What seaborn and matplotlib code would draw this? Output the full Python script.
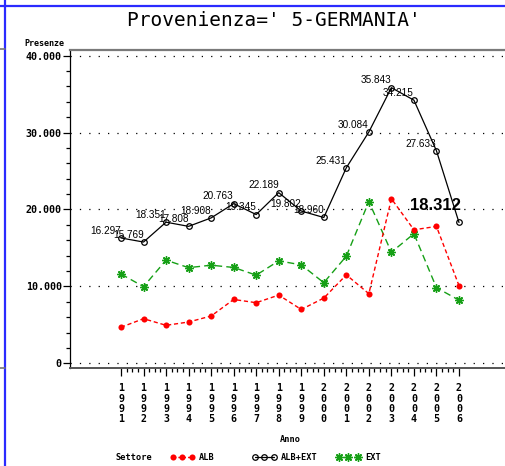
import pandas as pd
import matplotlib.pyplot as plt
from matplotlib.lines import Line2D
from matplotlib.ticker import FixedLocator
import seaborn as sns

# dati
anni = list(range(1991, 2007))
alb = [4690, 5800, 4940, 5370, 6150, 8300, 7880, 8870, 7000, 8480, 11500, 9050, 21400, 17360, 17800, 10100]
ext = [11607, 9969, 13411, 12438, 12758, 12463, 11465, 13319, 12802, 10480, 13931, 21034, 14443, 16855, 9833, 8212]
alb_ext = [16297, 15769, 18351, 17808, 18908, 20763, 19345, 22189, 19802, 18960, 25431, 30084, 35843, 34215, 27633, 18312]
y_ticks = [0, 10000, 20000, 30000, 40000]
y_labels = ['0', '10.000', '20.000', '30.000', '40.000']
serie = ['ALB', 'ALB+EXT', 'EXT']

MONO = 'DejaVu Sans Mono'
NARROW = ['Liberation Sans Narrow', 'DejaVu Sans Condensed', 'Liberation Sans']
ROSSO = '#ff0000'
VERDE = '#16a016'
BLU = '#2b2bff'


def main():
    sns.set_style('ticks')
    plt.rcParams['font.family'] = [MONO]
    plt.rcParams['text.color'] = 'black'
    plt.rcParams['xtick.color'] = 'black'
    plt.rcParams['ytick.color'] = 'black'

    df = pd.DataFrame({'Anno': anni, 'ALB': alb, 'EXT': ext, 'ALB+EXT': alb_ext})

    stili = {
        'ALB': dict(color=ROSSO, lw=1, linestyle=(0, (3, 2)), marker='o',
                    markersize=4.4, markeredgewidth=0),
        'ALB+EXT': dict(color='black', lw=0.9, marker='o', markersize=4,
                        markerfacecolor='none', markeredgecolor='black',
                        markeredgewidth=0.9),
        'EXT': dict(color=VERDE, lw=1, linestyle=(0, (5, 3)), marker=(8, 2, 0),
                    markersize=6, markeredgewidth=1, markeredgecolor=VERDE),
    }

    fig = plt.figure(figsize=(5.05, 4.66), dpi=100)
    ax = fig.add_axes([70 / 505, 98 / 466, 440 / 505, 318 / 466])

    for s in ['EXT', 'ALB', 'ALB+EXT']:
        sns.lineplot(data=df, x='Anno', y=s, ax=ax, **stili[s])

    # etichette dei valori sulla serie totale
    for i, (a, v) in enumerate(zip(anni, alb_ext)):
        testo = f'{v:,}'.replace(',', '.')
        if i == len(anni) - 1:
            ax.annotate(testo, (a, v), xytext=(1, 9), textcoords='offset points',
                        ha='right', va='baseline', fontsize=12, fontweight='bold',
                        family=NARROW)
        else:
            ax.annotate(testo, (a, v), xytext=(0, 3), textcoords='offset points',
                        ha='right', va='baseline', fontsize=7.2, family=NARROW)

    ax.set_xlim(1991 - 51 / 22.533, 1991 + 389 / 22.533)
    ax.set_ylim(-611, 40741)

    ax.xaxis.set_major_locator(FixedLocator(anni))
    ax.xaxis.set_minor_locator(FixedLocator([1991 + k * 0.25 for k in range(61)]))
    ax.set_xticklabels(['\n'.join(str(a)) for a in anni])
    for t in ax.get_xticklabels():
        t.set_linespacing(1.05)
        t.set_fontweight('bold')
        t.set_fontsize(7.2)

    ax.yaxis.set_major_locator(FixedLocator(y_ticks))
    ax.yaxis.set_minor_locator(FixedLocator(list(range(0, 40001, 2000))))
    ax.set_yticklabels(y_labels, fontsize=7.2, fontweight='bold')

    ax.tick_params(axis='x', which='major', direction='out', length=6, width=0.9, pad=5)
    ax.tick_params(axis='x', which='minor', direction='out', length=3, width=0.9)
    ax.tick_params(axis='y', which='major', direction='out', length=5, width=0.9, pad=1)
    ax.tick_params(axis='y', which='minor', direction='out', length=3, width=0.9)

    for yv in y_ticks:
        ax.axhline(yv, color='black', lw=0.9, linestyle=(0, (1, 6.5)), zorder=0)

    ax.spines['right'].set_visible(False)
    ax.spines['left'].set_linewidth(0.9)
    ax.spines['left'].set_color('black')
    ax.spines['top'].set_color('#7a7a7a')
    ax.spines['top'].set_linewidth(1.6)
    ax.spines['bottom'].set_color('#555555')
    ax.spines['bottom'].set_linewidth(1.4)

    ax.set_xlabel('')
    ax.set_ylabel('')
    fig.text(290 / 505, 1 - 440 / 466, 'Anno', ha='center', va='center',
             fontsize=6.2, fontweight='bold')
    fig.text(64 / 505, 1 - 44 / 466, 'Presenze', ha='right', va='center',
             fontsize=6, fontweight='bold')

    fig.text(274 / 505, 1 - 21 / 466, "Provenienza=' 5-GERMANIA'", ha='center',
             va='center', fontsize=14)

    # legenda in basso, una voce alla volta come nell'originale
    y_leg = 1 - 458 / 466
    fig.text(116 / 505, y_leg, 'Settore', ha='left', va='center',
             fontsize=6.2, fontweight='bold')
    x_voci = [170, 252, 336]
    for s, xv in zip(serie, x_voci):
        st = dict(stili[s])
        if s != 'ALB+EXT':
            st['linestyle'] = (0, (2, 1.5))
        h = Line2D([], [], **st)
        fig.legend([h], [s], loc='center left', bbox_to_anchor=(xv / 505, y_leg),
                   frameon=False, numpoints=3, handlelength=2.8, handletextpad=0.55,
                   borderpad=0, borderaxespad=0,
                   prop={'family': MONO, 'size': 6.2, 'weight': 'bold'})

    # cornice della pagina
    fig.add_artist(Line2D([5 / 505, 5 / 505], [0, 1], transform=fig.transFigure,
                          color=BLU, lw=1.6))
    fig.add_artist(Line2D([0, 1], [1 - 6 / 466, 1 - 6 / 466], transform=fig.transFigure,
                          color=BLU, lw=1.6))
    for yp in (49, 368):
        fig.add_artist(Line2D([0, 5 / 505], [1 - yp / 466, 1 - yp / 466],
                              transform=fig.transFigure, color='#777777', lw=1.2))

    fig.savefig('out.png', dpi=100)


if __name__ == '__main__':
    main()
